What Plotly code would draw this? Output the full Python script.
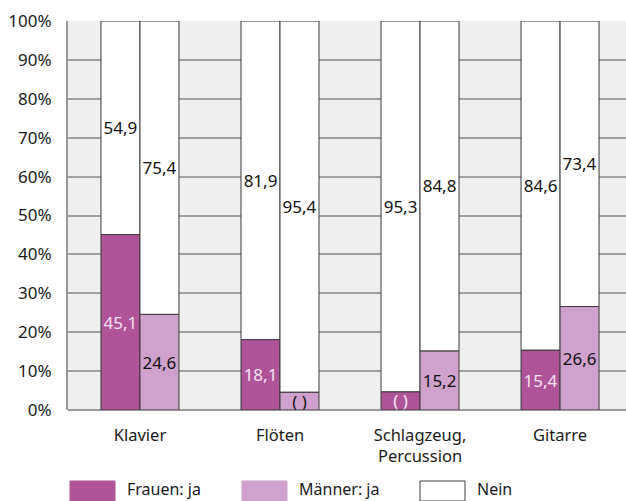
import plotly.graph_objects as go

instruments = ["Klavier", "Flöten", "Schlagzeug,<br>Percussion", "Gitarre"]
frauen_ja = [45.1, 18.1, 4.7, 15.4]
frauen_nein = [54.9, 81.9, 95.3, 84.6]
maenner_ja = [24.6, 4.6, 15.2, 26.6]
maenner_nein = [75.4, 95.4, 84.8, 73.4]
# values shown only as "( )" in the source
frauen_ja_hidden = [False, False, True, False]
maenner_ja_hidden = [False, True, False, False]
y_ticks = [0, 10, 20, 30, 40, 50, 60, 70, 80, 90, 100]

FONT = "Noto Sans"
C_FRAUEN = "#af5499"
C_MAENNER = "#d0a1cc"
EDGE = "#3a3a3a"

W, H = 626, 501
L, R, T, B = 68, 0, 21, 91


def fmt(vals, hidden=None):
    out = []
    for i, v in enumerate(vals):
        if hidden and hidden[i]:
            out.append("( )")
        else:
            out.append(f"{v:.1f}".replace(".", ","))
    return out


def bar(name, y, base, group, color, text, textcolor):
    return go.Bar(
        x=instruments, y=y, base=base, offsetgroup=group, name=name,
        marker=dict(color=color, line=dict(color=EDGE, width=1)),
        text=text, textposition="inside", insidetextanchor="middle",
        constraintext="none", textangle=0,
        textfont=dict(family=FONT, size=17, color=textcolor),
        showlegend=False, hoverinfo="skip",
    )


fig = go.Figure()
fig.add_trace(bar("Frauen: ja", frauen_ja, None, "f", C_FRAUEN,
                  fmt(frauen_ja, frauen_ja_hidden), "#f6e4f2"))
fig.add_trace(bar("Frauen: nein", frauen_nein, frauen_ja, "f", "white",
                  fmt(frauen_nein), "#111111"))
fig.add_trace(bar("Männer: ja", maenner_ja, None, "m", C_MAENNER,
                  fmt(maenner_ja, maenner_ja_hidden), "#111111"))
fig.add_trace(bar("Männer: nein", maenner_nein, maenner_ja, "m", "white",
                  fmt(maenner_nein), "#111111"))

fig.update_layout(
    width=W, height=H,
    margin=dict(l=L, r=R, t=T, b=B, pad=0),
    barmode="group", bargap=0.443, bargroupgap=0,
    paper_bgcolor="white", plot_bgcolor="#efefef",
    font=dict(family=FONT, size=16, color="#1a1a1a"),
)
fig.update_xaxes(
    range=[-0.514, 3.471], showgrid=False, showline=False,
    ticks="", tickfont=dict(size=16.5), ticklabelstandoff=13,
)
fig.update_yaxes(
    range=[0, 100], tickvals=y_ticks, ticktext=[f"{v}%" for v in y_ticks],
    showgrid=True, gridcolor="#a0a0a0", gridwidth=1.5,
    showline=True, linecolor="#9a9a9a", linewidth=2,
    zeroline=True, zerolinecolor="#9a9a9a", zerolinewidth=2,
    ticks="", ticklabelstandoff=11, tickfont=dict(size=17),
)


# legend drawn by hand with big swatches, like the original
def px_x(p):
    return (p - L) / (W - L - R)


def px_y(p):
    return (H - B - p) / (H - T - B)


legend_items = [("Frauen: ja", C_FRAUEN, 70), ("Männer: ja", C_MAENNER, 242), ("Nein", "white", 420)]
for label, color, x0 in legend_items:
    fig.add_shape(type="rect", xref="paper", yref="paper",
                  x0=px_x(x0), x1=px_x(x0 + 45), y0=px_y(501), y1=px_y(481),
                  fillcolor=color, line=dict(color=EDGE if color == "white" else color, width=1))
    fig.add_annotation(xref="paper", yref="paper", x=px_x(x0 + 56), y=px_y(488.5),
                       text=label, showarrow=False, xanchor="left", yanchor="middle",
                       borderpad=0, font=dict(size=16, family=FONT, color="#1a1a1a"))

fig.write_html("out.html", config={"displayModeBar": False},
               post_script="document.body.style.margin='0';")
